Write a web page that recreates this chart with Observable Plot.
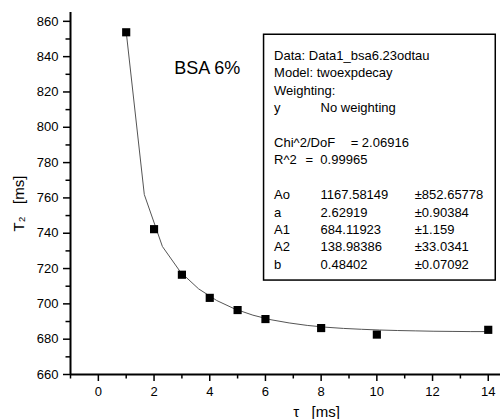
<!DOCTYPE html>
<html><head><meta charset="utf-8">
<script src="https://cdn.jsdelivr.net/npm/d3@7"></script>
<script src="https://cdn.jsdelivr.net/npm/@observablehq/plot@0.6"></script>
<style>body{margin:0;background:#fff} svg{font-family:"Liberation Sans",Arial,sans-serif}</style>
</head><body><div id="chart"></div><script>
// measured points
const tau = [1, 2, 3, 4, 5, 6, 8, 10, 14];
const t2 = [853.8, 742.3, 716.5, 703.4, 696.5, 691.4, 686.3, 682.6, 685.3];
// fitted curve (as drawn)
const fitTau = [1, 1.65, 2.3, 2.95, 3.6, 4.25, 4.9, 5.55, 6.2, 6.85, 7.5, 8.15, 8.8, 9.45, 10.1, 10.75, 11.4, 12.05, 12.7, 13.35, 14];
const fitT2 = [854.1, 761.9, 732.5, 718.0, 708.5, 701.9, 697.1, 693.6, 691.0, 689.2, 687.8, 686.8, 686.1, 685.6, 685.2, 684.9, 684.7, 684.5, 684.4, 684.3, 684.3];
// ticks
const xMajor = [0, 2, 4, 6, 8, 10, 12, 14];
const xMinor = [-1, 1, 3, 5, 7, 9, 11, 13];
const yMajor = [660, 680, 700, 720, 740, 760, 780, 800, 820, 840, 860];
const yMinor = [670, 690, 710, 730, 750, 770, 790, 810, 830, 850];
// fit report text
const statLabels = ["Data: Data1_bsa6.23odtau", "Model: twoexpdecay", "Weighting:", "y", "", "Chi^2/DoF", "R^2", "", "Ao", "a", "A1", "A2", "b"];
const statValues = ["", "", "", "No weighting", "", "", "", "", "1167.58149", "2.62919", "684.11923", "138.98386", "0.48402"];
const statErrors = ["", "", "", "", "", "", "", "", "±852.65778", "±0.90384", "±1.159", "±33.0341", "±0.07092"];
const chiText = ["", "", "", "", "", "= 2.06916"];
const r2Text = ["", "", "", "", "", "", "=  0.99965"];
const title = "BSA 6%";

const pts = tau.map((x, i) => ({x, y: t2[i]}));
const fit = fitTau.map((x, i) => ({x, y: fitT2[i]}));
const lh = 1.34;
const block = (lines, x) => Plot.text([lines.join("\n")], {x, y: 845.2, text: d => d, textAnchor: "start", lineAnchor: "top", fontSize: 13, lineHeight: lh});

const chart = Plot.plot({
  width: 500, height: 419,
  marginLeft: 70, marginRight: 0, marginTop: 12, marginBottom: 45,
  x: {domain: [-1, 14.44]},
  y: {domain: [660, 865]},
  style: {fontFamily: '"Liberation Sans", Arial, sans-serif', fontSize: "13px", color: "#000", background: "#fff"},
  marks: [
    Plot.axisX({ticks: xMajor, tickSize: 7, tickPadding: 5, fontSize: 13, label: null, strokeWidth: 1.5}),
    Plot.axisX({ticks: xMinor, tickSize: 4.5, tickFormat: () => "", label: null, strokeWidth: 1.5}),
    Plot.axisY({ticks: yMajor, tickSize: 7, tickPadding: 5, fontSize: 13, label: null, strokeWidth: 1.5}),
    Plot.axisY({ticks: yMinor, tickSize: 4.5, tickFormat: () => "", label: null, strokeWidth: 1.5}),
    Plot.ruleY([660], {stroke: "#000", strokeWidth: 2}),
    Plot.ruleX([-1], {stroke: "#000", strokeWidth: 2}),
    Plot.line(fit, {x: "x", y: "y", stroke: "#555", strokeWidth: 1}),
    Plot.dot(pts, {x: "x", y: "y", symbol: "square", r: 4.6, fill: "#000", stroke: "none"}),
    Plot.rect([0], {x1: 5.95, x2: 14.27, y1: 713.2, y2: 852.4, fill: "#fff", stroke: "#000", strokeWidth: 1.5}),
    block(statLabels, 6.31),
    block(statValues, 7.98),
    block(statErrors, 11.36),
    block(chiText, 9.06),
    block(r2Text, 7.44),
    Plot.text([title], {x: 3.91, y: 833.2, fontSize: 18}),
    Plot.text(["τ   [ms]"], {frameAnchor: "bottom", lineAnchor: "middle", dx: 31, dy: 38, fontSize: 15}),
    Plot.text(["T₂   [ms]"], {frameAnchor: "left", lineAnchor: "middle", rotate: -90, dx: -51, dy: 38, fontSize: 15})
  ]
});
document.getElementById("chart").appendChild(chart);
</script></body></html>
